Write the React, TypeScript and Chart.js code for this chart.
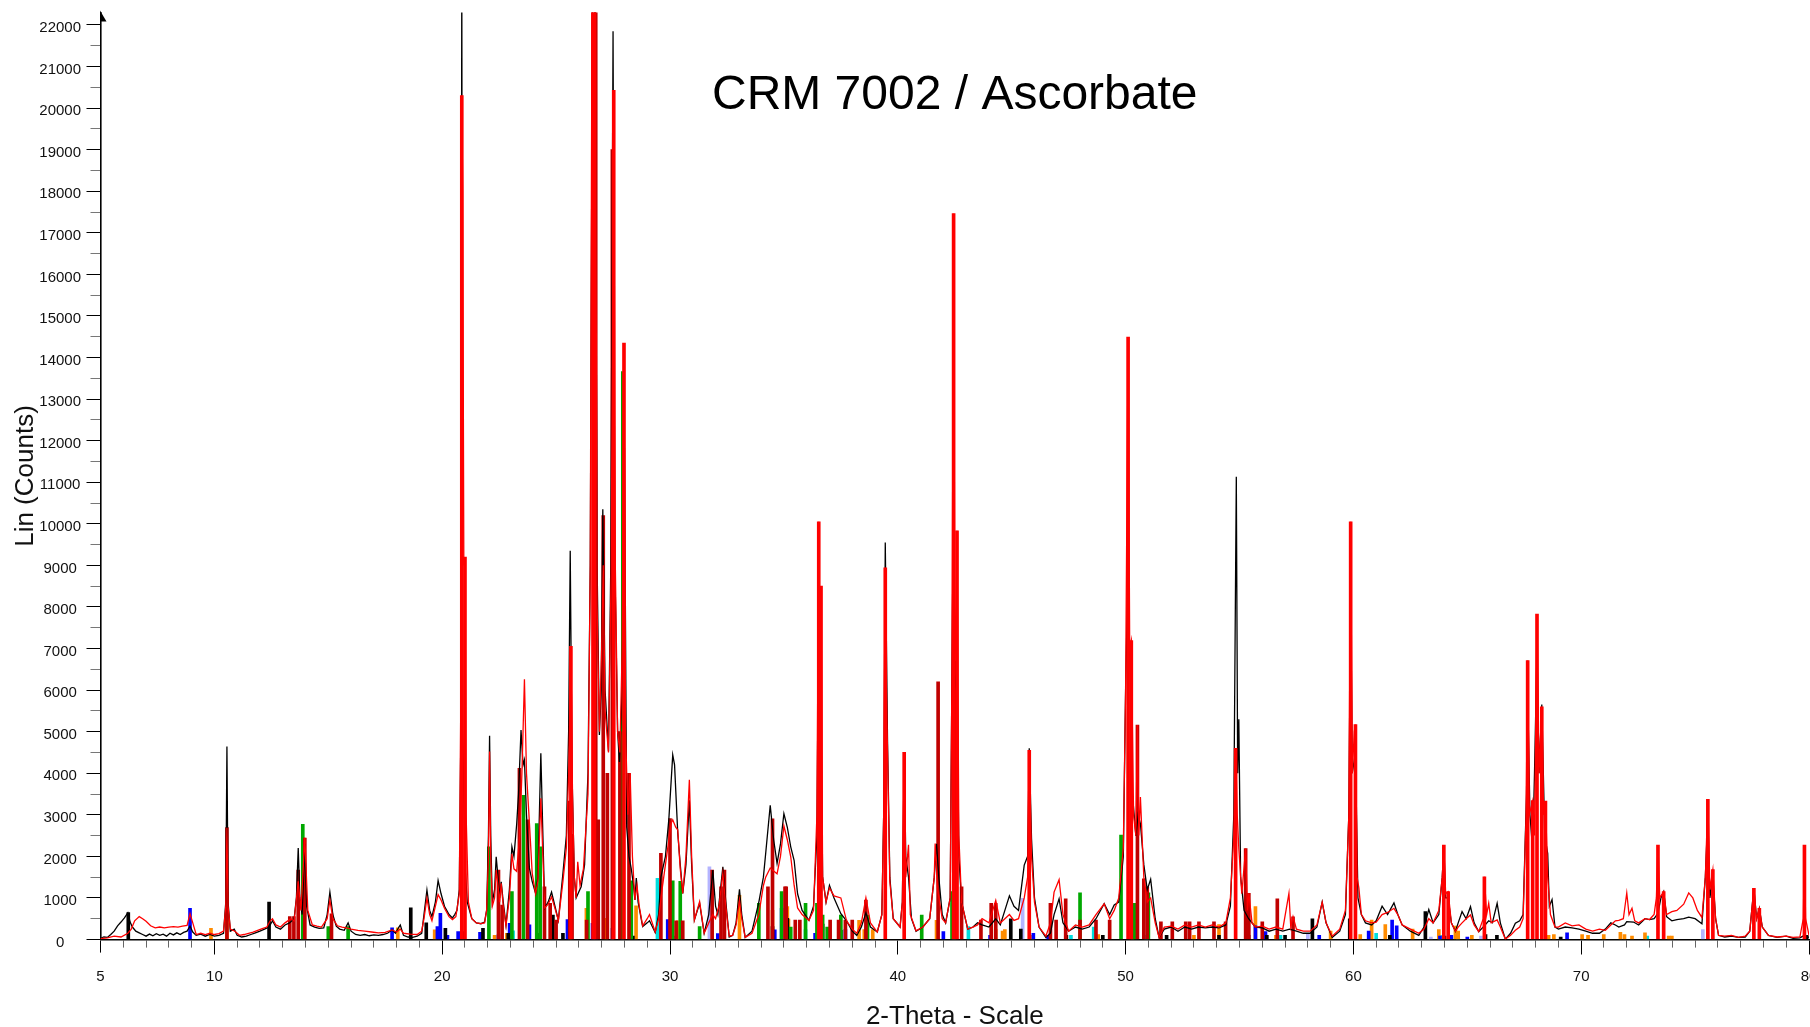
import React, { useEffect, useRef } from 'react';
import { Chart, registerables } from 'chart.js';
Chart.register(...registerables);

const TITLE = 'CRM 7002 / Ascorbate';
const X_TITLE = '2-Theta - Scale';
const Y_TITLE = 'Lin (Counts)';
const X_LABELED_TICKS = [5, 10, 20, 30, 40, 50, 60, 70, 80];
const Y_LABELED_TICKS = [0, 1000, 2000, 3000, 4000, 5000, 6000, 7000, 8000, 9000, 10000, 11000, 12000, 13000, 14000, 15000, 16000, 17000, 18000, 19000, 20000, 21000, 22000];

// measured pattern (black)
const BLACK_LINE: number[][] = [
[5.0,30],[5.15,60],[5.3,50],[5.45,120],[5.6,200],[5.75,330],[5.9,420],[6.05,520],[6.2,640],[6.3,420],[6.4,300],[6.55,200],[6.7,160],[6.85,120],[7.0,80],[7.15,130],[7.3,90],[7.45,140],[7.6,100],[7.75,130],[7.9,80],[8.05,150],[8.2,110],[8.35,160],[8.5,120],[8.65,170],[8.8,200],[8.93,320],[9.05,180],[9.2,100],[9.4,130],[9.6,80],[9.8,120],[10.0,80],[10.2,100],[10.4,150],[10.5,900],[10.55,4640],[10.6,900],[10.7,200],[10.87,250],[11.0,100],[11.2,60],[11.4,80],[11.6,120],[11.8,160],[12.0,200],[12.2,250],[12.4,300],[12.55,450],[12.7,300],[12.9,250],[13.1,350],[13.3,400],[13.5,500],[13.6,1000],[13.68,2200],[13.75,1000],[13.85,600],[13.97,2300],[14.05,800],[14.2,350],[14.4,300],[14.6,270],[14.8,280],[14.95,600],[15.07,1140],[15.2,600],[15.35,320],[15.5,250],[15.7,220],[15.87,400],[16.0,200],[16.2,120],[16.4,100],[16.6,120],[16.8,90],[17.0,110],[17.2,100],[17.4,120],[17.6,150],[17.8,230],[17.95,150],[18.1,300],[18.16,350],[18.3,100],[18.5,60],[18.7,50],[18.9,80],[19.1,150],[19.2,600],[19.33,1190],[19.45,700],[19.55,550],[19.7,900],[19.82,1420],[19.95,1100],[20.1,800],[20.3,600],[20.45,520],[20.55,600],[20.65,700],[20.75,1200],[20.82,5000],[20.86,23500],[20.9,5000],[21.0,1800],[21.1,900],[21.3,500],[21.5,400],[21.7,380],[21.86,420],[21.95,700],[22.03,2500],[22.08,4900],[22.13,2500],[22.2,900],[22.3,1200],[22.37,1990],[22.45,1500],[22.52,1000],[22.59,1390],[22.68,900],[22.8,350],[22.95,1200],[23.06,2230],[23.15,2000],[23.27,2780],[23.35,3500],[23.46,5040],[23.55,4200],[23.61,4320],[23.7,3000],[23.83,1710],[23.95,1400],[24.1,1110],[24.2,1500],[24.33,4480],[24.42,2500],[24.5,760],[24.65,900],[24.8,1140],[24.95,800],[25.1,460],[25.3,1590],[25.45,2500],[25.55,5000],[25.62,9350],[25.7,4000],[25.8,1500],[25.88,1000],[26.0,1150],[26.1,1270],[26.25,1800],[26.4,4000],[26.5,9000],[26.6,23500],[26.7,23500],[26.8,9000],[26.9,4920],[26.98,6000],[27.05,10350],[27.15,6000],[27.3,4530],[27.4,9000],[27.5,21850],[27.58,9000],[27.7,5000],[27.78,4270],[27.9,6000],[28.0,11830],[28.1,2700],[28.2,2000],[28.3,1700],[28.4,1300],[28.46,950],[28.52,1480],[28.6,900],[28.8,310],[29.0,400],[29.1,450],[29.35,170],[29.5,600],[29.6,1500],[29.8,2000],[29.95,2900],[30.12,4440],[30.2,4200],[30.34,2560],[30.45,1800],[30.56,1110],[30.7,1800],[30.85,3350],[30.95,1800],[31.07,470],[31.3,870],[31.5,150],[31.7,600],[31.88,1670],[32.0,800],[32.1,600],[32.32,1750],[32.45,900],[32.6,60],[32.75,100],[32.9,400],[33.05,1210],[33.15,600],[33.3,50],[33.6,200],[33.9,900],[34.1,1500],[34.2,2070],[34.4,3230],[34.55,2400],[34.7,1830],[34.85,2300],[35.0,3030],[35.15,2700],[35.3,2230],[35.45,1900],[35.6,1100],[35.8,700],[36.1,460],[36.3,800],[36.45,2500],[36.53,8500],[36.6,7000],[36.7,1500],[36.85,900],[37.0,1300],[37.2,1000],[37.5,620],[37.75,450],[38.0,200],[38.2,100],[38.4,300],[38.6,640],[38.8,300],[39.1,180],[39.3,600],[39.38,3000],[39.45,9550],[39.55,4750],[39.65,1500],[39.8,500],[40.1,300],[40.2,900],[40.28,4400],[40.35,2000],[40.47,1500],[40.6,500],[40.8,200],[41.1,300],[41.4,500],[41.6,1500],[41.7,2300],[41.8,1500],[41.95,600],[42.1,400],[42.3,1000],[42.4,8000],[42.45,10500],[42.5,6000],[42.6,6500],[42.68,2000],[42.8,900],[43.07,250],[43.3,300],[43.5,400],[43.7,350],[44.0,300],[44.3,500],[44.5,350],[44.7,700],[44.9,1050],[45.1,800],[45.3,700],[45.55,1790],[45.7,2000],[45.77,4600],[45.87,2430],[46.0,1000],[46.2,300],[46.5,50],[46.7,150],[46.86,600],[47.08,980],[47.25,400],[47.5,200],[47.8,300],[48.1,250],[48.4,300],[48.7,500],[49.06,860],[49.3,600],[49.5,830],[49.7,900],[49.9,2000],[50.0,6000],[50.1,8800],[50.2,6500],[50.3,3500],[50.45,2500],[50.55,3000],[50.65,2790],[50.8,1800],[50.95,1200],[51.1,1450],[51.3,500],[51.47,50],[51.7,250],[52.0,300],[52.3,200],[52.6,300],[52.9,250],[53.2,300],[53.5,280],[53.8,300],[54.1,280],[54.4,350],[54.6,800],[54.75,3000],[54.86,11130],[54.92,4000],[54.97,5300],[55.05,1500],[55.2,700],[55.4,500],[55.7,300],[56.0,280],[56.3,200],[56.6,250],[56.9,200],[57.2,250],[57.5,200],[57.8,150],[58.1,150],[58.4,300],[58.63,900],[58.8,400],[59.07,50],[59.4,200],[59.65,600],[59.8,3000],[59.88,8500],[59.95,4000],[60.09,4500],[60.2,1000],[60.35,600],[60.53,400],[60.8,350],[61.0,450],[61.26,800],[61.5,600],[61.78,880],[61.95,600],[62.14,350],[62.5,200],[62.87,100],[63.1,300],[63.31,720],[63.5,400],[63.75,600],[63.9,1500],[63.97,2200],[64.05,1000],[64.16,1000],[64.3,400],[64.48,200],[64.6,400],[64.77,670],[64.95,500],[65.14,790],[65.3,400],[65.5,190],[65.7,300],[65.94,450],[66.1,400],[66.31,870],[66.45,400],[66.67,10],[66.9,150],[67.11,390],[67.3,450],[67.45,600],[67.6,3500],[67.65,6000],[67.75,3000],[67.87,2140],[67.95,4000],[68.06,7000],[68.15,4000],[68.27,5650],[68.4,2500],[68.53,2070],[68.6,800],[68.72,960],[68.85,300],[69.0,250],[69.3,300],[69.6,280],[69.9,250],[70.2,200],[70.5,150],[70.8,150],[71.06,250],[71.3,400],[71.5,350],[71.65,300],[71.9,350],[72.0,430],[72.3,420],[72.52,350],[72.8,500],[73.0,480],[73.2,500],[73.37,630],[73.5,1000],[73.62,1150],[73.75,550],[73.98,450],[74.2,480],[74.5,500],[74.72,540],[75.0,500],[75.3,380],[75.45,1500],[75.56,3000],[75.65,1000],[75.78,1500],[75.9,500],[76.03,100],[76.3,60],[76.6,80],[76.9,50],[77.2,60],[77.4,200],[77.58,1230],[77.7,500],[77.82,750],[77.95,300],[78.22,100],[78.6,50],[79.0,80],[79.3,30],[79.6,40],[79.8,100],[80.0,50]
];

// second pattern (red)
const RED_LINE: number[][] = [
[5.0,20],[5.3,40],[5.6,80],[5.9,60],[6.2,150],[6.35,250],[6.5,450],[6.7,550],[6.85,500],[7.0,440],[7.2,330],[7.4,280],[7.6,300],[7.8,280],[8.0,300],[8.2,310],[8.4,300],[8.6,320],[8.8,340],[8.93,620],[9.05,400],[9.2,120],[9.4,150],[9.6,120],[9.8,150],[10.0,120],[10.2,140],[10.4,200],[10.5,800],[10.55,2690],[10.6,800],[10.7,250],[10.9,200],[11.1,100],[11.3,120],[11.5,150],[11.7,180],[11.9,220],[12.1,260],[12.3,300],[12.45,450],[12.55,500],[12.7,350],[12.9,300],[13.1,400],[13.35,500],[13.5,450],[13.68,1400],[13.8,700],[13.97,2450],[14.1,700],[14.3,350],[14.5,320],[14.7,300],[14.95,500],[15.07,950],[15.2,500],[15.4,330],[15.6,300],[15.8,280],[16.0,250],[16.3,220],[16.6,200],[16.9,180],[17.2,160],[17.5,170],[17.8,230],[18.0,180],[18.16,250],[18.3,150],[18.6,130],[18.9,120],[19.1,200],[19.2,500],[19.33,1000],[19.45,600],[19.55,450],[19.7,800],[19.82,1080],[19.95,950],[20.1,750],[20.3,550],[20.45,480],[20.6,550],[20.75,1100],[20.82,6000],[20.86,20300],[20.9,18000],[20.95,9000],[21.0,9200],[21.05,3000],[21.15,900],[21.3,500],[21.5,400],[21.7,380],[21.86,400],[21.95,700],[22.03,2000],[22.08,4520],[22.13,2000],[22.2,800],[22.3,1000],[22.37,1670],[22.45,1300],[22.52,900],[22.59,1350],[22.68,800],[22.8,330],[22.95,1000],[23.06,2060],[23.15,1700],[23.27,1640],[23.4,2500],[23.5,4000],[23.61,6260],[23.7,4000],[23.83,2790],[23.95,1600],[24.1,1100],[24.2,1400],[24.33,3400],[24.42,2000],[24.5,760],[24.65,850],[24.8,1025],[24.95,750],[25.1,460],[25.3,1400],[25.45,2200],[25.55,4000],[25.65,7050],[25.72,3500],[25.8,1500],[25.88,1000],[25.95,1870],[26.05,1300],[26.2,1700],[26.4,3500],[26.5,9000],[26.58,23500],[26.72,23500],[26.8,8000],[26.9,5000],[27.0,7000],[27.07,9000],[27.15,5500],[27.3,4500],[27.42,9000],[27.53,20430],[27.6,9000],[27.7,5000],[27.8,4500],[27.9,7000],[27.98,14350],[28.05,5000],[28.15,3000],[28.25,4000],[28.35,2000],[28.46,950],[28.55,1300],[28.65,800],[28.8,330],[29.0,500],[29.1,600],[29.35,180],[29.5,500],[29.65,1200],[29.8,1800],[29.95,2400],[30.05,2800],[30.12,2880],[30.25,2700],[30.34,2640],[30.45,1700],[30.56,1110],[30.7,2000],[30.85,3840],[30.95,2000],[31.07,470],[31.3,910],[31.5,150],[31.7,400],[31.88,600],[32.0,500],[32.15,800],[32.32,1600],[32.45,800],[32.6,80],[32.75,100],[32.9,350],[33.05,950],[33.15,500],[33.3,50],[33.6,150],[33.9,600],[34.1,1300],[34.2,1500],[34.4,1720],[34.55,1650],[34.7,1580],[34.85,2000],[35.0,2730],[35.15,2400],[35.3,1990],[35.45,1300],[35.6,760],[35.8,600],[36.1,460],[36.3,700],[36.45,3000],[36.53,10050],[36.58,6000],[36.63,8500],[36.7,1500],[36.85,900],[37.0,1240],[37.2,1050],[37.5,1000],[37.75,450],[38.0,250],[38.2,150],[38.4,400],[38.6,1000],[38.8,400],[39.1,180],[39.3,600],[39.38,3000],[39.45,8940],[39.5,6000],[39.55,4500],[39.65,1400],[39.8,500],[40.1,300],[40.2,900],[40.28,4500],[40.35,1500],[40.47,2280],[40.55,600],[40.8,210],[41.1,300],[41.4,500],[41.6,1500],[41.64,2310],[41.75,1200],[41.95,500],[42.1,400],[42.3,1000],[42.38,6700],[42.45,17460],[42.5,8000],[42.55,6700],[42.6,9830],[42.68,2500],[42.8,900],[43.07,250],[43.3,300],[43.5,350],[43.7,500],[44.0,400],[44.3,940],[44.5,400],[44.7,500],[44.9,600],[45.1,460],[45.3,500],[45.55,1000],[45.7,1500],[45.77,4550],[45.87,2000],[46.0,900],[46.2,300],[46.5,80],[46.7,400],[46.86,1140],[47.08,1440],[47.25,600],[47.5,200],[47.8,350],[48.1,300],[48.4,350],[48.7,600],[49.06,860],[49.3,500],[49.5,700],[49.7,1000],[49.9,2200],[50.0,6000],[50.11,14490],[50.18,7000],[50.25,7190],[50.35,3000],[50.45,2500],[50.52,5160],[50.58,2500],[50.65,3430],[50.8,1500],[50.95,900],[51.1,1000],[51.3,400],[51.47,50],[51.7,300],[52.0,320],[52.3,250],[52.6,350],[52.9,300],[53.2,350],[53.5,300],[53.8,350],[54.1,300],[54.4,400],[54.6,1000],[54.75,2500],[54.83,4600],[54.9,3000],[54.97,2190],[55.1,1100],[55.27,2190],[55.35,700],[55.41,1110],[55.55,400],[55.7,300],[56.0,320],[56.3,250],[56.6,300],[56.9,250],[57.17,1110],[57.25,300],[57.35,550],[57.5,250],[57.8,200],[58.1,200],[58.4,350],[58.63,900],[58.8,400],[59.07,80],[59.4,250],[59.65,700],[59.8,3000],[59.88,10050],[59.95,4000],[60.04,5000],[60.09,5170],[60.16,1500],[60.24,1240],[60.35,600],[60.53,450],[60.8,400],[61.0,420],[61.26,600],[61.5,650],[61.78,750],[61.95,600],[62.14,350],[62.5,250],[62.87,150],[63.1,250],[63.31,500],[63.5,400],[63.75,700],[63.9,1500],[63.97,2270],[64.05,1100],[64.16,1150],[64.3,400],[64.48,200],[64.6,300],[64.77,400],[64.95,500],[65.14,590],[65.3,350],[65.5,190],[65.7,500],[65.75,1510],[65.85,600],[65.94,870],[66.05,400],[66.31,470],[66.45,300],[66.67,10],[66.9,100],[67.11,220],[67.3,300],[67.45,500],[67.58,3000],[67.65,6710],[67.72,3000],[67.87,3340],[67.95,2500],[68.06,7830],[68.15,4000],[68.27,5600],[68.35,3000],[68.43,3330],[68.53,1500],[68.65,600],[68.85,300],[69.0,300],[69.3,400],[69.6,330],[69.9,350],[70.2,250],[70.5,200],[70.8,250],[71.06,220],[71.3,350],[71.5,450],[71.65,460],[71.85,500],[72.0,1120],[72.1,600],[72.23,750],[72.35,450],[72.52,400],[72.8,500],[73.0,480],[73.2,600],[73.3,1000],[73.37,2270],[73.45,1000],[73.62,1150],[73.75,600],[73.98,670],[74.2,700],[74.5,850],[74.72,1120],[74.9,1000],[75.1,700],[75.3,530],[75.45,1500],[75.56,3370],[75.65,1200],[75.78,1680],[75.9,500],[76.03,100],[76.3,80],[76.6,100],[76.9,50],[77.2,80],[77.4,200],[77.58,1230],[77.7,500],[77.82,750],[77.95,300],[78.22,100],[78.6,60],[79.0,80],[79.3,50],[79.6,60],[79.75,500],[79.8,2270],[79.85,500],[80.0,100]
];

// reference stick patterns [2theta, counts]
const QUARTZ_STICKS: number[][] = [
[20.86,20300],[21.0,9200],[25.65,7050],[26.62,23500],[26.68,23500],[27.53,20430],[27.98,14350],[36.53,10050],[36.63,8500],[39.45,8940],[40.28,4500],[42.45,17460],[42.6,9830],[45.77,4550],[50.11,14490],[50.25,7190],[54.83,4600],[59.88,10050],[60.09,5170],[63.97,2270],[64.16,1150],[65.75,1510],[67.65,6710],[67.87,3340],[68.06,7830],[68.27,5600],[68.43,3330],[73.37,2270],[73.62,1150],[75.56,3370],[75.78,1680],[77.58,1230],[77.82,750],[79.8,2270]
];
const DARKRED_STICKS: number[][] = [
[10.55,2690],[13.31,550],[13.49,550],[13.68,1670],[13.97,2440],[15.14,620],[22.47,1670],[22.63,830],[23.39,4120],[23.75,2880],[24.49,1270],[24.74,870],[25.0,470],[25.6,3330],[25.7,2530],[26.34,470],[26.74,23500],[26.85,2880],[27.07,10200],[27.25,4000],[27.47,19000],[27.8,5000],[28.2,4000],[29.6,2070],[30.0,2910],[30.27,450],[30.56,450],[31.85,1670],[32.24,1270],[32.39,1670],[34.3,1270],[34.5,2900],[35.05,1270],[35.1,1270],[35.5,470],[35.7,470],[37.03,470],[37.4,470],[37.7,470],[38.0,470],[38.6,950],[41.77,6200],[42.55,6700],[42.8,1270],[43.65,470],[44.1,870],[44.3,870],[46.7,870],[46.95,470],[47.37,980],[48.0,470],[48.7,470],[49.3,470],[50.52,5160],[50.8,1460],[50.95,1270],[51.55,425],[52.05,425],[52.64,425],[52.81,425],[53.22,425],[53.88,425],[54.39,425],[55.27,2190],[55.41,1110],[56.0,425],[56.66,980],[57.35,545]
];
const GREEN_STICKS: number[][] = [
[13.88,2770],[15.0,310],[15.87,310],[22.05,2230],[23.06,1150],[23.57,3470],[24.15,2790],[24.3,2230],[25.6,300],[26.4,1150],[27.93,13660],[28.3,1410],[30.12,1410],[30.45,1400],[31.3,310],[33.9,870],[34.9,1150],[35.3,300],[35.95,870],[36.45,870],[36.7,590],[36.9,300],[37.5,590],[38.67,590],[41.05,590],[42.38,1150],[42.48,870],[48.0,1120],[49.8,2510],[50.4,870],[51.0,1120]
];
const BLUE_STICKS: number[][] = [
[8.93,750],[17.8,280],[19.79,310],[19.92,630],[20.23,100],[20.7,190],[21.66,170],[22.47,110],[22.96,390],[23.83,350],[25.5,480],[26.6,390],[26.76,450],[27.9,450],[29.9,480],[32.1,140],[34.6,230],[34.9,750],[36.37,150],[37.7,240],[42.0,190],[42.45,270],[44.05,100],[45.95,150],[46.6,100],[55.7,330],[56.14,190],[58.5,100],[60.67,200],[61.7,470],[61.9,330],[63.8,80],[64.3,100],[65.0,60],[69.38,160]
];
const ORANGE_STICKS: number[][] = [
[9.85,270],[10.55,1130],[18.05,280],[19.67,230],[22.3,100],[22.84,150],[26.33,750],[27.2,510],[28.51,810],[30.34,450],[33.05,1060],[34.5,700],[35.15,790],[35.2,490],[38.3,460],[38.53,240],[38.9,240],[41.7,460],[44.3,240],[44.6,200],[44.7,240],[45.9,100],[48.8,120],[50.3,150],[53.0,100],[54.1,360],[55.7,790],[56.6,100],[59.0,200],[60.3,120],[60.8,470],[61.4,360],[62.6,250],[63.75,240],[64.48,320],[64.6,200],[65.2,100],[68.57,100],[68.8,120],[70.04,120],[70.3,100],[70.99,120],[71.72,170],[71.9,120],[72.23,80],[72.8,160],[73.84,80],[73.98,80]
];
const CYAN_STICKS: number[][] = [
[23.11,210],[29.45,1470],[35.95,240],[43.1,310],[47.6,100],[48.6,300],[50.9,100],[56.8,100],[61.0,150],[63.8,100],[64.6,100],[72.9,80]
];
const LAVENDER_STICKS: number[][] = [
[27.45,270],[31.73,1750],[45.48,990],[58.0,150],[63.4,60],[65.6,80],[75.34,240]
];
const BLACK_STICKS: number[][] = [
[6.22,650],[12.4,900],[18.62,760],[19.3,400],[20.14,270],[20.91,190],[21.79,270],[22.9,150],[24.16,150],[24.86,590],[25.3,150],[26.76,100],[28.37,80],[30.12,80],[34.5,310],[35.15,510],[36.55,370],[36.7,370],[37.5,220],[44.96,500],[45.4,250],[47.4,100],[49.0,100],[51.8,100],[54.1,100],[55.4,100],[56.2,100],[57.0,100],[58.2,500],[59.84,500],[61.6,100],[63.16,670],[64.0,80],[65.8,120],[66.3,100],[69.1,60],[79.9,100]
];

const FONT = '"Liberation Sans", Arial, Helvetica, sans-serif';

const toXY = (arr: number[][]) => arr.map(([x, y]) => ({ x, y }));

export default function App() {
  const ref = useRef<HTMLCanvasElement | null>(null);
  useEffect(() => {
    const canvas = ref.current;
    if (!canvas) return;
    Chart.defaults.font.family = FONT;
    const decor = {
      id: 'decor',
      beforeDraw(chart: any) {
        const { ctx, width, height } = chart;
        ctx.save();
        ctx.fillStyle = '#ffffff';
        ctx.fillRect(0, 0, width, height);
        ctx.restore();
      },
      afterDraw(chart: any) {
        const { ctx, chartArea } = chart;
        ctx.save();
        const ax = chartArea.left;
        const top = chartArea.top;
        ctx.fillStyle = '#000';
        ctx.beginPath();
        ctx.moveTo(ax - 0.5, top - 2);
        ctx.lineTo(ax + 6, top + 9);
        ctx.lineTo(ax - 0.5, top + 9);
        ctx.closePath();
        ctx.fill();
        ctx.font = '48px ' + FONT;
        ctx.textAlign = 'center';
        ctx.textBaseline = 'alphabetic';
        ctx.fillStyle = '#000';
        ctx.fillText(TITLE, (chartArea.left + chartArea.right) / 2, top + 96);
        ctx.restore();
      },
    };
    const stick = (data: number[][], color: string, order: number, thick = 3) => ({
      type: 'bar' as const,
      data: toXY(data),
      backgroundColor: color,
      borderWidth: 0,
      barThickness: thick,
      grouped: false,
      order,
    });
    const isMajorY = (v: number) => Y_LABELED_TICKS.includes(v);
    const chart = new Chart(canvas, {
      type: 'line',
      data: {
        datasets: [
          stick(QUARTZ_STICKS, '#ff0000', 0, 3) as any,
          {
            type: 'line',
            data: toXY(RED_LINE),
            borderColor: '#ff0000',
            borderWidth: 1.3,
            pointRadius: 0,
            tension: 0,
            order: 1,
          },
          {
            type: 'line',
            data: toXY(BLACK_LINE),
            borderColor: '#000000',
            borderWidth: 1.3,
            pointRadius: 0,
            tension: 0,
            order: 2,
          },
          stick(DARKRED_STICKS, '#c00000', 3),
          stick(GREEN_STICKS, '#00a800', 4),
          stick(BLACK_STICKS, '#000000', 5),
          stick(BLUE_STICKS, '#0000ff', 6),
          stick(ORANGE_STICKS, '#ff8c00', 7),
          stick(CYAN_STICKS, '#00dede', 8),
          stick(LAVENDER_STICKS, '#b4b4ff', 9),
        ],
      },
      options: {
        animation: false,
        responsive: false,
        maintainAspectRatio: false,
        devicePixelRatio: 1,
        events: [],
        layout: { padding: { top: 12.5, right: 1, left: 0, bottom: 0 } },
        plugins: { legend: { display: false }, tooltip: { enabled: false }, title: { display: false } },
        scales: {
          x: {
            type: 'linear',
            min: 5,
            max: 80,
            offset: false,
            grid: {
              offset: false,
              drawOnChartArea: false,
              drawTicks: true,
              tickLength: 15,
              tickWidth: 1,
              tickColor: (c: any) => (c.tick && (c.tick.value % 10 === 0 || c.tick.value === 5) ? '#000' : '#666'),
              tickBorderDash: (c: any) => {
                const v = c.tick ? c.tick.value : 0;
                if (v % 10 === 0) return [];
                if (v === 5) return [12, 60];
                return [7, 60];
              },
            } as any,
            border: { display: true, color: '#000', width: 1.6 },
            ticks: {
              stepSize: 1,
              autoSkip: false,
              maxRotation: 0,
              minRotation: 0,
              padding: 13,
              color: '#111',
              font: { size: 15, family: FONT },
              callback: (v: any) => (X_LABELED_TICKS.includes(Number(v)) ? String(v) : ''),
            },
            title: {
              display: true,
              text: X_TITLE,
              color: '#111',
              font: { size: 26, family: FONT, lineHeight: 0.78 },
              padding: { top: 0, bottom: 0 },
            },
            afterFit: (s: any) => {
              s.height = 87.5;
              s.paddingLeft = 0;
              s.paddingRight = 0;
            },
          } as any,
          y: {
            type: 'linear',
            min: 0,
            max: 22300,
            afterBuildTicks: (s: any) => {
              const ticks: any[] = [];
              Y_LABELED_TICKS.forEach((v) => {
                ticks.push({ value: v });
                ticks.push({ value: v + 500 });
              });
              s.ticks = ticks.filter((t) => t.value <= 22300);
            },
            grid: {
              drawOnChartArea: false,
              drawTicks: true,
              tickLength: 14,
              tickWidth: 1,
              tickColor: (c: any) => (c.tick && isMajorY(c.tick.value) ? '#000' : '#777'),
              tickBorderDash: (c: any) => (c.tick && isMajorY(c.tick.value) ? [] : [0, 4, 10, 60]),
            } as any,
            border: { display: true, color: '#000', width: 1.6 },
            ticks: {
              autoSkip: false,
              crossAlign: 'center',
              padding: 5.5,
              labelOffset: 3,
              color: '#111',
              font: { size: 15, family: FONT },
              callback: (v: any) => (isMajorY(Number(v)) ? String(v) : ''),
            } as any,
            title: {
              display: true,
              text: Y_TITLE,
              color: '#111',
              font: { size: 26, family: FONT, lineHeight: 1.2 },
              padding: { top: 10, bottom: 0 },
            },
            afterFit: (s: any) => {
              s.width = 100.5;
              s.paddingTop = 0;
              s.paddingBottom = 0;
            },
          } as any,
        },
      } as any,
      plugins: [decor],
    });
    return () => chart.destroy();
  }, []);
  return (
    <div style={{ position: 'absolute', left: 0, top: 0, width: 1810, height: 1027, background: '#fff' }}>
      <canvas ref={ref} width={1810} height={1027} style={{ width: 1810, height: 1027, display: 'block' }} />
    </div>
  );
}
